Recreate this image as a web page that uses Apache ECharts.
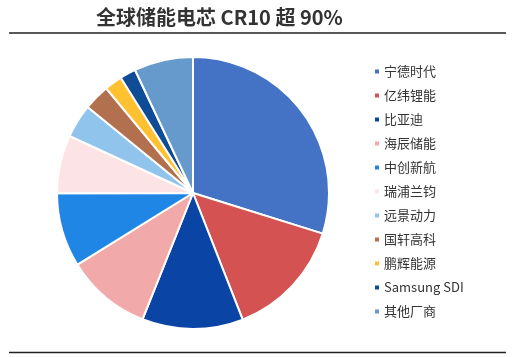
<!DOCTYPE html>
<html>
<head>
<meta charset="utf-8">
<script src="https://cdn.jsdelivr.net/npm/echarts@6/dist/echarts.min.js"></script>
<style>
html,body{margin:0;padding:0;background:#fff;}
#chart{width:513px;height:357px;}
</style>
</head>
<body>
<div id="chart"></div>
<script>
const categories = ['宁德时代','亿纬锂能','比亚迪','海辰储能','中创新航','瑞浦兰钧','远景动力','国轩高科','鹏辉能源','Samsung SDI','其他厂商'];
const shares = [29.8, 14.2, 12.0, 10.1, 8.8, 6.9, 4.0, 3.1, 2.1, 1.9, 7.0];
const colors = ['#4472C4','#D55252','#0A45A5','#F2A9A9','#2086E6','#FCE3E6','#90C4EC','#B2704F','#FFC12F','#0F4C96','#6699CC'];
const titleText = '全球储能电芯 CR10 超 90%';

const chart = echarts.init(document.getElementById('chart'), null, {renderer:'canvas'});
chart.setOption({
  animation: false,
  backgroundColor: '#fff',
  color: colors,
  title: {
    text: titleText,
    left: 91,
    top: 2,
    textStyle: {fontFamily: 'Noto Sans CJK SC', fontSize: 20, fontWeight: 'bold', color: '#333'}
  },
  graphic: [
    {type:'line', shape:{x1:9, y1:33, x2:506, y2:33}, style:{stroke:'#222', lineWidth:1.5}},
    {type:'line', shape:{x1:9, y1:352.5, x2:506, y2:352.5}, style:{stroke:'#222', lineWidth:1.5}}
  ],
  legend: {
    orient: 'vertical',
    left: 368,
    top: 60,
    icon: 'rect',
    itemWidth: 6,
    itemHeight: 6,
    itemGap: 11,
    data: categories,
    textStyle: {fontFamily: 'Noto Sans CJK SC', fontSize: 13, color: '#333', padding:[0,0,0,-1]}
  },
  series: [{
    type: 'pie',
    center: [193, 193],
    radius: 136,
    startAngle: 90,
    clockwise: true,
    label: {show: false},
    labelLine: {show: false},
    itemStyle: {borderColor: '#fff', borderWidth: 2},
    emphasis: {disabled: true},
    data: categories.map((c, i) => ({name: c, value: shares[i]}))
  }]
});
</script>
</body>
</html>
